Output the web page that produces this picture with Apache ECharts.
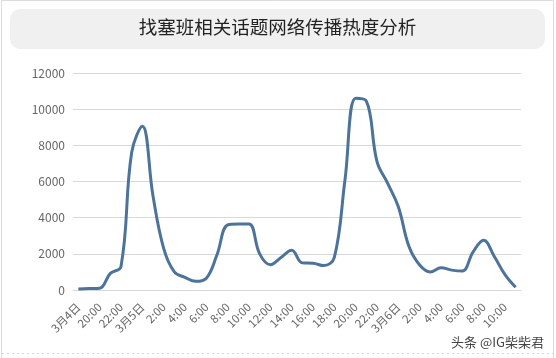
<!DOCTYPE html>
<html><head><meta charset="utf-8">
<script src="https://cdn.jsdelivr.net/npm/echarts@6/dist/echarts.min.js"></script>
<style>html,body{margin:0;padding:0;background:#fff}#c{width:556px;height:358px}</style>
</head><body><div id="c"></div>
<script>
const titleText = '找塞班相关话题网络传播热度分析';
const watermark = '头条 @IG柴柴君';
const categories = ['3月4日','19:00','20:00','21:00','22:00','23:00',
 '3月5日','1:00','2:00','3:00','4:00','5:00','6:00','7:00','8:00','9:00','10:00','11:00','12:00','13:00','14:00','15:00','16:00','17:00','18:00','19:00','20:00','21:00','22:00','23:00',
 '3月6日','1:00','2:00','3:00','4:00','5:00','6:00','7:00','8:00','9:00','10:00','11:00'];
const heat = [50,80,100,920,1300,7600,
 9050,5200,2300,1000,700,480,650,1950,3600,3650,3650,2000,1400,1800,2200,1500,1480,1350,1800,6100,10600,10450,7100,5900,
 4600,2400,1380,1000,1230,1100,1050,2100,2750,1850,850,150];
const yMin = 0, yMax = 12000, yStep = 2000;

const font = "'Noto Sans CJK SC', 'Noto Sans', sans-serif";
const chart = echarts.init(document.getElementById('c'));
chart.setOption({
  animation: false,
  textStyle: {fontFamily: font},
  graphic: [
    {type:'rect', shape:{x:1.5,y:0.5,width:552,height:370}, style:{fill:'none', stroke:'#dcdcdc', lineWidth:1}, z:-1},
    {type:'rect', shape:{x:10,y:9,width:535,height:40,r:10}, style:{fill:'#f0f0f0'}, z:-1},
    {type:'text', x:277.5, y:27, style:{text:titleText, fill:'#222', font:"18.5px " + font, textAlign:'center', textVerticalAlign:'middle'}},
    {type:'line', shape:{x1:2,y1:353.5,x2:554,y2:353.5}, style:{stroke:'#d8d8d8', lineWidth:1, lineDash:[2,3]}},
    {type:'text', x:544, y:342, style:{text:watermark, fill:'#444', font:"13px " + font, textAlign:'right', textVerticalAlign:'middle'}}
  ],
  grid: {left:73, right:35, top:73, bottom:68, containLabel:false},
  xAxis: {
    type:'category', data:categories, boundaryGap:true,
    axisLine:{lineStyle:{color:'#d9d9d9'}},
    axisTick:{show:false},
    axisLabel:{interval:1, rotate:45, color:'#666', fontSize:11.5, margin:15}
  },
  yAxis: {
    type:'value', min:yMin, max:yMax, interval:yStep,
    axisLine:{show:false}, axisTick:{show:false},
    axisLabel:{color:'#666', fontSize:12, margin:8, formatter: v => String(v)},
    splitLine:{lineStyle:{color:'#d9d9d9'}}
  },
  series: [{
    type:'line', data:heat, smooth:0.4, showSymbol:false,
    lineStyle:{color:'#4c7399', width:3},
    itemStyle:{color:'#4c7399'}
  }]
});
</script></body></html>
